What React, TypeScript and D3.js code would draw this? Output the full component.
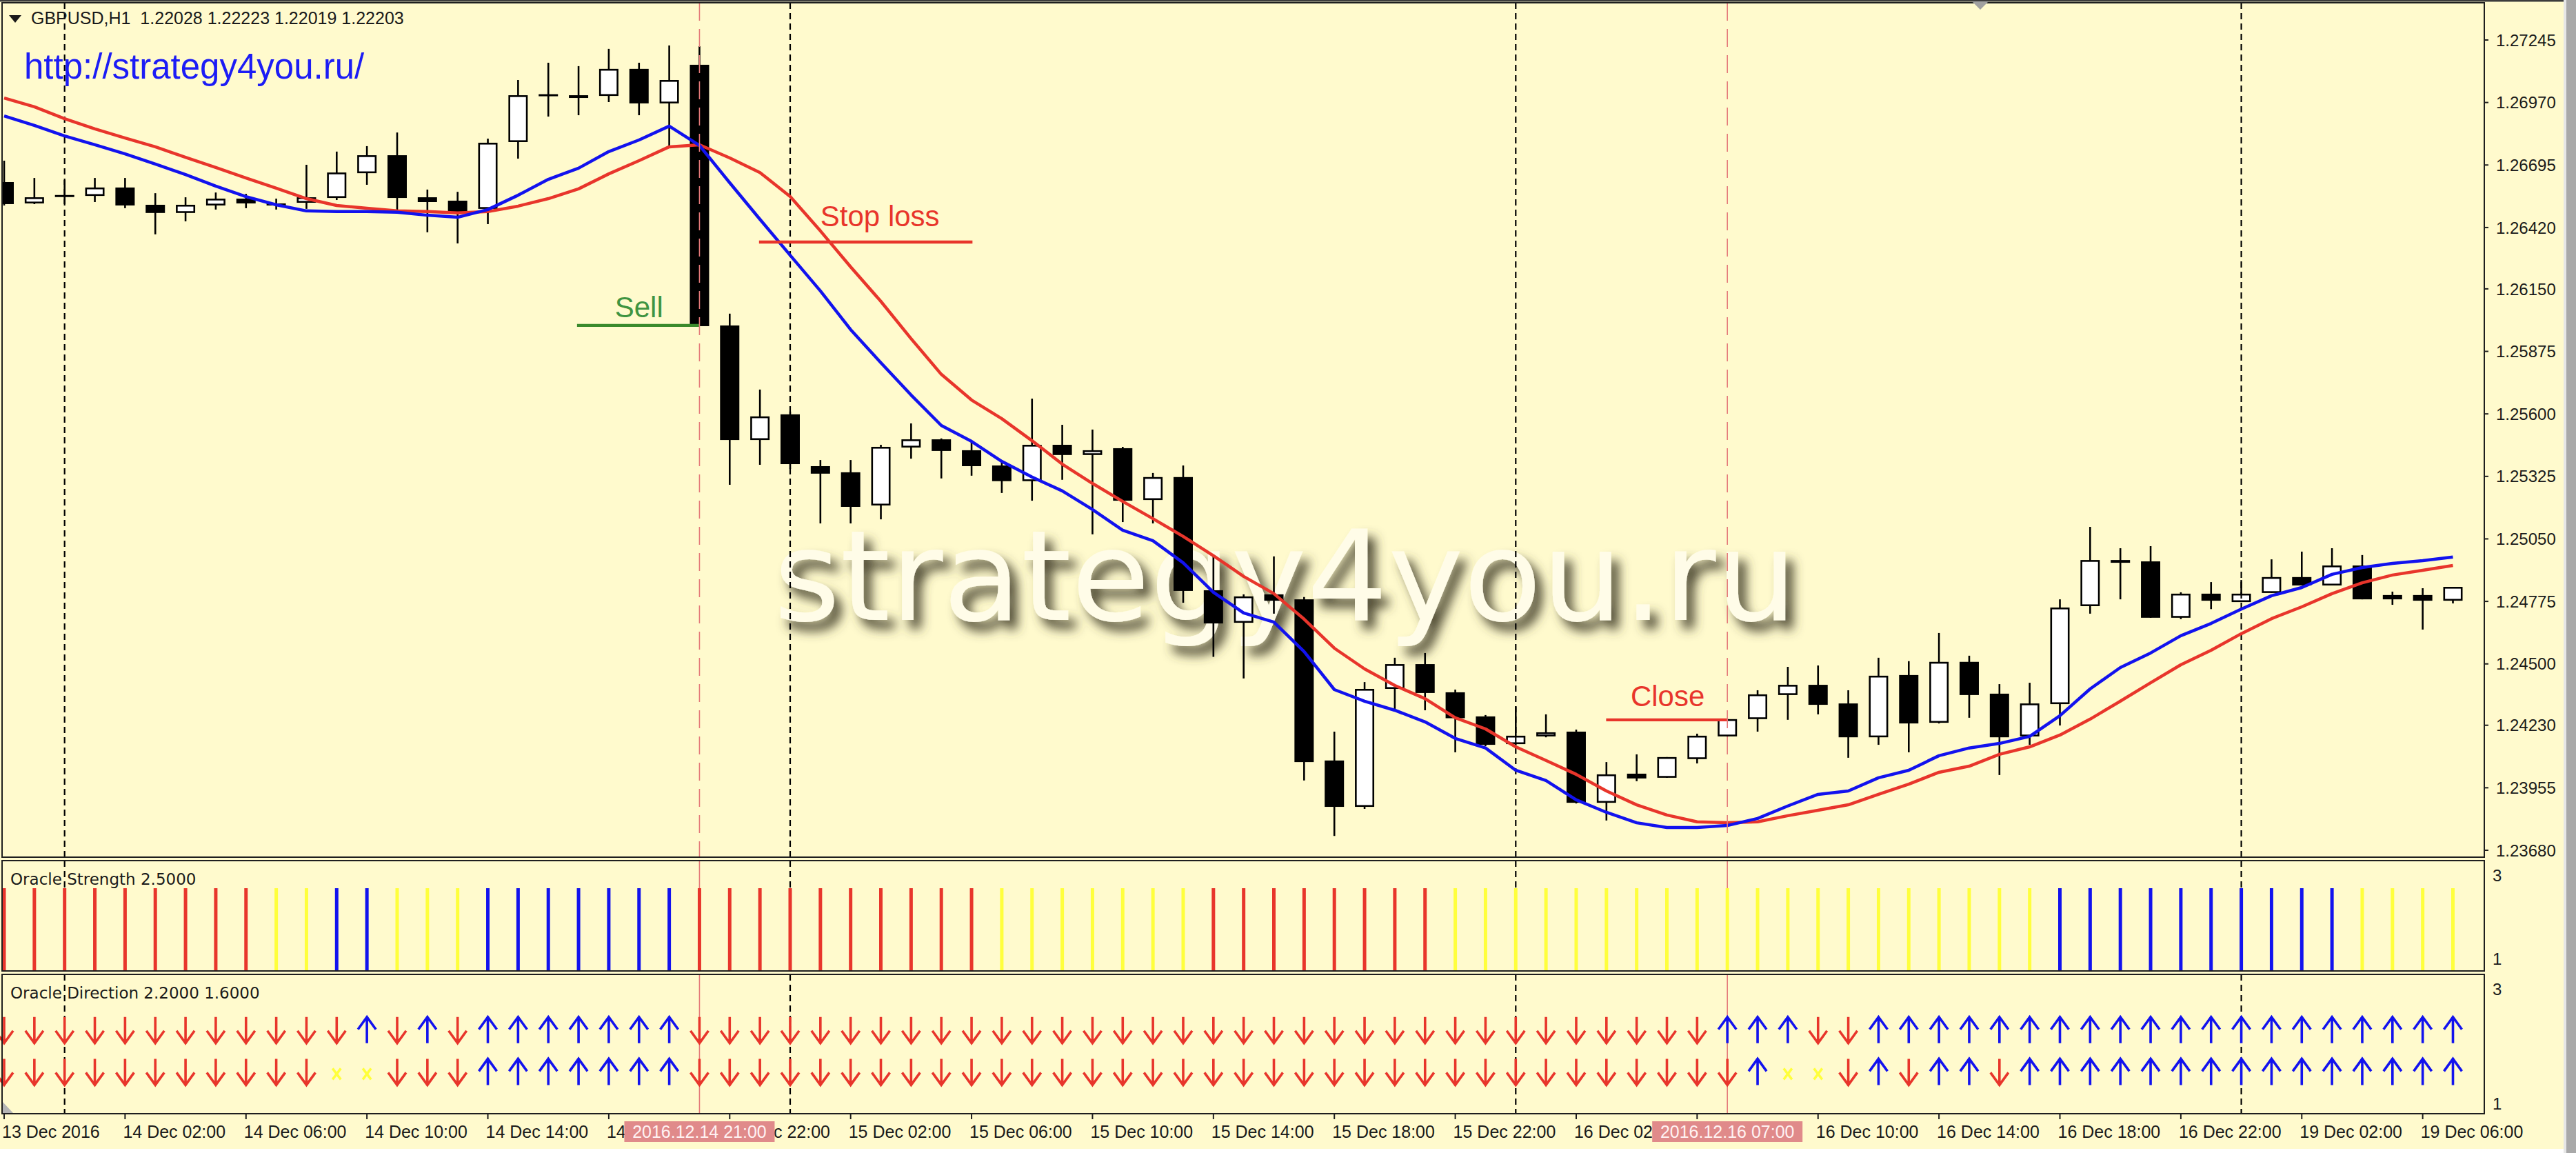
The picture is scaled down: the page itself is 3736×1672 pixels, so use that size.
import React from 'react';
import * as d3 from 'd3';

const W = 3736;
const H = 1672;

// ---------- DATA ----------
const barOpen = [1.26620, 1.26526, 1.26559, 1.26559, 1.26596, 1.26520, 1.26484, 1.26517, 1.26547, 1.26526,
  1.26529, 1.26550, 1.26659, 1.26738, 1.26553, 1.26538, 1.26502, 1.26796, 1.27002, 1.27002,
  1.26999, 1.27118, 1.26966, 1.27136, 1.25989, 1.25485, 1.25598, 1.25370, 1.25343, 1.25197,
  1.25452, 1.25488, 1.25440, 1.25373, 1.25304, 1.25464, 1.25419, 1.25449, 1.25221, 1.25322,
  1.24824, 1.24681, 1.24806, 1.24784, 1.24075, 1.23871, 1.24390, 1.24499, 1.24375, 1.24269,
  1.24147, 1.24181, 1.24202, 1.23889, 1.24017, 1.23999, 1.24081, 1.24181, 1.24257, 1.24363,
  1.24408, 1.24326, 1.24177, 1.24451, 1.24241, 1.24509, 1.24369, 1.24181, 1.24323, 1.24754,
  1.24957, 1.24951, 1.24703, 1.24809, 1.24772, 1.24812, 1.24882, 1.24845, 1.24933, 1.24803,
  1.24803, 1.24778];
const barHigh = [1.26714, 1.26638, 1.26629, 1.26638, 1.26638, 1.26571, 1.26553, 1.26574, 1.26568, 1.26547,
  1.26696, 1.26754, 1.26778, 1.26838, 1.26587, 1.26577, 1.26811, 1.27069, 1.27145, 1.27130,
  1.27206, 1.27145, 1.27221, 1.27218, 1.26041, 1.25707, 1.25610, 1.25397, 1.25397, 1.25464,
  1.25558, 1.25492, 1.25482, 1.25394, 1.25667, 1.25552, 1.25531, 1.25455, 1.25340, 1.25373,
  1.24973, 1.24806, 1.24973, 1.24794, 1.24202, 1.24420, 1.24527, 1.24548, 1.24387, 1.24275,
  1.24313, 1.24278, 1.24211, 1.24068, 1.24102, 1.24090, 1.24193, 1.24257, 1.24384, 1.24487,
  1.24493, 1.24384, 1.24527, 1.24512, 1.24636, 1.24536, 1.24411, 1.24417, 1.24784, 1.25103,
  1.25009, 1.25018, 1.24815, 1.24860, 1.24869, 1.24960, 1.24994, 1.25009, 1.24979, 1.24818,
  1.24833, 1.24839];
const barLow = [1.26517, 1.26523, 1.26523, 1.26532, 1.26505, 1.26390, 1.26447, 1.26499, 1.26505, 1.26499,
  1.26502, 1.26541, 1.26608, 1.26490, 1.26399, 1.26350, 1.26435, 1.26723, 1.26908, 1.26914,
  1.26972, 1.26914, 1.26775, 1.25986, 1.25288, 1.25376, 1.25358, 1.25118, 1.25118, 1.25136,
  1.25403, 1.25316, 1.25328, 1.25252, 1.25218, 1.25310, 1.25070, 1.25124, 1.25118, 1.24769,
  1.24531, 1.24436, 1.24721, 1.23987, 1.23743, 1.23862, 1.24296, 1.24296, 1.24111, 1.24138,
  1.24142, 1.24177, 1.23886, 1.23811, 1.23984, 1.23999, 1.24062, 1.24181, 1.24202, 1.24254,
  1.24278, 1.24087, 1.24144, 1.24111, 1.24238, 1.24263, 1.24011, 1.24144, 1.24229, 1.24721,
  1.24784, 1.24703, 1.24697, 1.24741, 1.24772, 1.24812, 1.24845, 1.24845, 1.24784, 1.24760,
  1.24651, 1.24766];
const barClose = [1.26523, 1.26553, 1.26558, 1.26596, 1.26517, 1.26484, 1.26520, 1.26547, 1.26526, 1.26517,
  1.26553, 1.26662, 1.26738, 1.26550, 1.26532, 1.26487, 1.26793, 1.27002, 1.27002, 1.26990,
  1.27118, 1.26966, 1.27069, 1.25986, 1.25485, 1.25589, 1.25379, 1.25337, 1.25191, 1.25455,
  1.25488, 1.25437, 1.25370, 1.25304, 1.25464, 1.25419, 1.25440, 1.25218, 1.25322, 1.24821,
  1.24678, 1.24797, 1.24778, 1.24068, 1.23871, 1.24390, 1.24499, 1.24372, 1.24261, 1.24144,
  1.24184, 1.24199, 1.23889, 1.24014, 1.23996, 1.24090, 1.24184, 1.24257, 1.24366, 1.24408,
  1.24320, 1.24177, 1.24448, 1.24238, 1.24509, 1.24363, 1.24177, 1.24326, 1.24748, 1.24957,
  1.24945, 1.24703, 1.24809, 1.24778, 1.24809, 1.24882, 1.24845, 1.24933, 1.24784, 1.24784,
  1.24778, 1.24839];

const slowMA = [1.26990, 1.26951, 1.26899, 1.26854, 1.26814, 1.26775, 1.26729, 1.26684, 1.26638, 1.26593,
  1.26547, 1.26517, 1.26505, 1.26493, 1.26490, 1.26484, 1.26490, 1.26514, 1.26547, 1.26590,
  1.26656, 1.26714, 1.26775, 1.26784, 1.26726, 1.26662, 1.26556, 1.26405, 1.26247, 1.26095,
  1.25931, 1.25774, 1.25661, 1.25579, 1.25482, 1.25379, 1.25294, 1.25215, 1.25139, 1.25061,
  1.24976, 1.24885, 1.24809, 1.24697, 1.24569, 1.24478, 1.24405, 1.24347, 1.24263, 1.24214,
  1.24135, 1.24075, 1.24014, 1.23941, 1.23880, 1.23835, 1.23805, 1.23801, 1.23805, 1.23832,
  1.23856, 1.23880, 1.23926, 1.23971, 1.24023, 1.24050, 1.24102, 1.24135, 1.24187, 1.24257,
  1.24336, 1.24417, 1.24496, 1.24560, 1.24633, 1.24699, 1.24751, 1.24809, 1.24857, 1.24891,
  1.24912, 1.24933];
const fastMA = [1.26911, 1.26869, 1.26823, 1.26784, 1.26744, 1.26699, 1.26653, 1.26602, 1.26556, 1.26520,
  1.26493, 1.26490, 1.26490, 1.26487, 1.26474, 1.26465, 1.26499, 1.26562, 1.26632, 1.26681,
  1.26754, 1.26805, 1.26866, 1.26781, 1.26617, 1.26456, 1.26298, 1.26141, 1.25971, 1.25825,
  1.25683, 1.25549, 1.25479, 1.25391, 1.25322, 1.25261, 1.25179, 1.25088, 1.25042, 1.24945,
  1.24815, 1.24724, 1.24684, 1.24554, 1.24387, 1.24336, 1.24296, 1.24245, 1.24172, 1.24130,
  1.24032, 1.23987, 1.23902, 1.23847, 1.23801, 1.23780, 1.23780, 1.23789, 1.23820, 1.23875,
  1.23926, 1.23941, 1.23999, 1.24032, 1.24096, 1.24130, 1.24150, 1.24181, 1.24272, 1.24390,
  1.24484, 1.24548, 1.24624, 1.24678, 1.24741, 1.24800, 1.24836, 1.24894, 1.24924, 1.24942,
  1.24954, 1.24970];

// Oracle Strength histogram colour per bar, in groups of ten bars (R = red, Y = yellow, B = blue)
const strengthState = 'RRRRRRRRRY YBBYYYBBBB BBBRRRRRRR RRRYYYYYYY RRRRRRRRYY YYYYYYYYYY YYYYYYYYBB BBBBBBBBYY YY'
  .replace(/ /g, '').split('');
const strengthLevel = 2.5;
// Oracle Direction arrows per bar, in groups of ten (D = down, U = up, X = neutral)
const directionUpper = 'DDDDDDDDDD DDUDUDUUUU UUUDDDDDDD DDDDDDDDDD DDDDDDDDDD DDDDDDDUUU DDUUUUUUUU UUUUUUUUUU UU'
  .replace(/ /g, '').split('');
const directionLower = 'DDDDDDDDDD DXXDDDUUUU UUUDDDDDDD DDDDDDDDDD DDDDDDDDDD DDDDDDDDUX XDUDUUDUUU UUUUUUUUUU UU'
  .replace(/ /g, '').split('');
const directionLevels = [2.2, 1.6];

const priceTicks = [1.27245, 1.26970, 1.26695, 1.26420, 1.26150, 1.25875, 1.25600, 1.25325, 1.25050,
  1.24775, 1.24500, 1.24230, 1.23955, 1.23680];
const timeTickBars = [0, 4, 8, 12, 16, 20, 24, 28, 32, 36, 40, 44, 48, 52, 56, 60, 64, 68, 72, 76, 80];
const timeTickLabels = ['13 Dec 2016', '14 Dec 02:00', '14 Dec 06:00', '14 Dec 10:00', '14 Dec 14:00',
  '14 Dec 18:00', '14 Dec 22:00', '15 Dec 02:00', '15 Dec 06:00', '15 Dec 10:00', '15 Dec 14:00',
  '15 Dec 18:00', '15 Dec 22:00', '16 Dec 02:00', '16 Dec 06:00', '16 Dec 10:00', '16 Dec 14:00',
  '16 Dec 18:00', '16 Dec 22:00', '19 Dec 02:00', '19 Dec 06:00'];
const separatorBars = [2, 26, 50, 74];
const markerBars = [23, 57];
const markerLabels = ['2016.12.14 21:00', '2016.12.16 07:00'];

// trade annotations: bar index range and price
const tradeLines = [
  { label: 'Sell', from: 18.95, to: 23, price: 1.25989, textBar: 20.2, textPrice: 1.26025, color: '#3b8a2c', text: '#3f9441' },
  { label: 'Stop loss', from: 24.97, to: 32.03, price: 1.26356, textBar: 27, textPrice: 1.26426, color: '#e8352b', text: '#e8352b' },
  { label: 'Close', from: 52.99, to: 57, price: 1.24254, textBar: 53.8, textPrice: 1.24314, color: '#e8352b', text: '#e8352b' },
];

// ---------- LAYOUT ----------
const plotLeft = 3;
const plotRight = 3603;
const mainTop = 4;
const mainBottom = 1243;
const strTop = 1248;
const strBottom = 1408;
const dirTop = 1413;
const dirBottom = 1615;

const BG = '#fffacd';
const RED = '#e8352b';
const BLUE = '#1212ee';
const YELLOW = '#ffff3c';
const TXT = '#1a1a1a';
const SANS = '"Liberation Sans", Arial, sans-serif';

const xs = d3.scaleLinear().domain([0, 81]).range([6, 3557.5]);
const ys = d3.scaleLinear().domain([1.23680, 1.27245]).range([1233, 58]);
const yStr = d3.scaleLinear().domain([1, 3]).range([strBottom, strTop]);
const yDir = d3.scaleLinear().domain([1, 3]).range([dirBottom, dirTop]);

const colorOf = (c: string) => (c === 'R' ? RED : c === 'B' ? BLUE : YELLOW);

function arrowPath(cx: number, cy: number, up: boolean) {
  const h = 19, hw = 13, hd = 18;
  if (up) {
    return `M${cx},${cy + h}L${cx},${cy - h}M${cx - hw},${cy - h + hd}L${cx},${cy - h}L${cx + hw},${cy - h + hd}`;
  }
  return `M${cx},${cy - h}L${cx},${cy + h}M${cx - hw},${cy + h - hd}L${cx},${cy + h}L${cx + hw},${cy + h - hd}`;
}

export default function App() {
  const line = d3.line<number>().x((_, i) => xs(i)).y((v) => ys(v));
  const bodyHalf = 14;

  return (
    <svg width={W} height={H} viewBox={`0 0 ${W} ${H}`}
      style={{ position: 'absolute', left: 0, top: 0, display: 'block' }}>
      <defs>
        <clipPath id="mainClip"><rect x={plotLeft} y={mainTop} width={plotRight - plotLeft} height={mainBottom - mainTop} /></clipPath>
        <clipPath id="strClip"><rect x={plotLeft} y={strTop} width={plotRight - plotLeft} height={strBottom - strTop} /></clipPath>
        <filter id="wm" x="-5%" y="-30%" width="110%" height="170%">
          <feGaussianBlur in="SourceAlpha" stdDeviation="8" result="b" />
          <feOffset in="b" dx="11" dy="13" result="o" />
          <feFlood floodColor="#45412c" floodOpacity="0.95" />
          <feComposite in2="o" operator="in" result="s" />
          <feMerge><feMergeNode in="s" /><feMergeNode in="SourceGraphic" /></feMerge>
        </filter>
      </defs>

      <rect x={0} y={0} width={W} height={H} fill={BG} />

      {/* watermark */}
      <text x={1122} y={899} fontFamily='"DejaVu Sans", Verdana, sans-serif' fontSize={182}
        textLength={1484} lengthAdjust="spacingAndGlyphs" fill="#fffce8" filter="url(#wm)">strategy4you.ru</text>

      {/* main panel content */}
      <g clipPath="url(#mainClip)">
        {barOpen.map((o, i) => {
          const c = barClose[i];
          const cx = xs(i);
          const top = ys(Math.max(o, c));
          const bot = ys(Math.min(o, c));
          const bull = c >= o;
          const hgt = bot - top;
          return (
            <g key={i}>
              <line x1={cx} x2={cx} y1={ys(barHigh[i])} y2={ys(barLow[i])} stroke="#000" strokeWidth={2.6} />
              {hgt < 3 ? (
                <line x1={cx - bodyHalf} x2={cx + bodyHalf} y1={(top + bot) / 2} y2={(top + bot) / 2} stroke="#000" strokeWidth={3} />
              ) : (
                <rect x={cx - bodyHalf + 1.3} y={top + 1.3} width={bodyHalf * 2 - 2.6} height={hgt - 2.6}
                  fill={bull ? '#ffffff' : '#000000'} stroke="#000" strokeWidth={2.6} />
              )}
            </g>
          );
        })}

        {separatorBars.map((b) => (
          <line key={b} x1={xs(b)} x2={xs(b)} y1={mainTop} y2={mainBottom} stroke="#000" strokeWidth={2.2} strokeDasharray="9 6" />
        ))}

        <path d={line(slowMA) || ''} fill="none" stroke={RED} strokeWidth={4.5} strokeLinejoin="round" />
        <path d={line(fastMA) || ''} fill="none" stroke={BLUE} strokeWidth={4.5} strokeLinejoin="round" />

        {tradeLines.map((t) => (
          <g key={t.label}>
            <line x1={xs(t.from)} x2={xs(t.to)} y1={ys(t.price)} y2={ys(t.price)} stroke={t.color} strokeWidth={4.3} />
            <text x={xs(t.textBar)} y={ys(t.textPrice)} fontFamily={SANS} fontSize={42} fill={t.text}>{t.label}</text>
          </g>
        ))}

        {markerBars.map((b) => (
          <line key={b} x1={xs(b)} x2={xs(b)} y1={mainTop} y2={mainBottom} stroke="#e47a7a" strokeWidth={1.6} strokeDasharray="26 12" />
        ))}
      </g>

      {/* sub-panel vertical lines */}
      {separatorBars.map((b) => (
        <g key={'s' + b}>
          <line x1={xs(b)} x2={xs(b)} y1={strTop} y2={strBottom} stroke="#000" strokeWidth={2.2} strokeDasharray="9 6" />
          <line x1={xs(b)} x2={xs(b)} y1={dirTop} y2={dirBottom} stroke="#000" strokeWidth={2.2} strokeDasharray="9 6" />
        </g>
      ))}
      {markerBars.map((b) => (
        <g key={'m' + b}>
          <line x1={xs(b)} x2={xs(b)} y1={strTop} y2={strBottom} stroke="#e47a7a" strokeWidth={1.6} />
          <line x1={xs(b)} x2={xs(b)} y1={dirTop} y2={dirBottom} stroke="#e47a7a" strokeWidth={1.6} />
        </g>
      ))}

      {/* strength panel */}
      <g clipPath="url(#strClip)">
        {strengthState.map((s, i) => (
          <line key={i} x1={xs(i)} x2={xs(i)} y1={yStr(strengthLevel)} y2={strBottom - 1} stroke={colorOf(s)} strokeWidth={5} />
        ))}
      </g>

      {/* direction panel */}
      {[directionUpper, directionLower].map((row, r) => (
        <g key={r}>
          {row.map((s, i) => {
            const cx = xs(i);
            const cy = yDir(directionLevels[r]);
            if (s === 'X') {
              return (
                <path key={i} d={`M${cx - 6},${cy - 5}L${cx + 6},${cy + 11}M${cx + 6},${cy - 5}L${cx - 6},${cy + 11}`}
                  stroke={YELLOW} strokeWidth={3.5} fill="none" />
              );
            }
            return (
              <path key={i} d={arrowPath(cx, cy, s === 'U')} fill="none"
                stroke={s === 'U' ? BLUE : RED} strokeWidth={3.6} />
            );
          })}
        </g>
      ))}

      {/* panel borders */}
      {[[mainTop, mainBottom], [strTop, strBottom], [dirTop, dirBottom]].map(([t, b], k) => (
        <rect key={k} x={plotLeft} y={t} width={plotRight - plotLeft} height={b - t} fill="none" stroke="#1e1e1e" strokeWidth={2} />
      ))}
      <rect x={0} y={0} width={W} height={2.5} fill="#3c3c3c" />

      {/* price axis */}
      {priceTicks.map((p) => (
        <g key={p}>
          <line x1={plotRight} x2={plotRight + 6} y1={ys(p)} y2={ys(p)} stroke="#1e1e1e" strokeWidth={2} />
          <text x={3620} y={ys(p)} dy="0.36em" fontFamily={SANS} fontSize={24} fill={TXT}>{p.toFixed(5)}</text>
        </g>
      ))}
      {/* sub-panel scale labels */}
      <text x={3615} y={strTop + 21} dy="0.36em" fontFamily={SANS} fontSize={24} fill={TXT}>3</text>
      <text x={3615} y={strBottom - 18} dy="0.36em" fontFamily={SANS} fontSize={24} fill={TXT}>1</text>
      <text x={3615} y={dirTop + 21} dy="0.36em" fontFamily={SANS} fontSize={24} fill={TXT}>3</text>
      <text x={3615} y={dirBottom - 15} dy="0.36em" fontFamily={SANS} fontSize={24} fill={TXT}>1</text>

      {/* panel titles */}
      <text x={15} y={1283} fontFamily='"DejaVu Sans", sans-serif' fontSize={23} fill={TXT}>Oracle Strength 2.5000</text>
      <text x={15} y={1448} fontFamily='"DejaVu Sans", sans-serif' fontSize={23} fill={TXT}>Oracle Direction 2.2000 1.6000</text>

      {/* time axis */}
      {timeTickBars.map((b, k) => (
        <g key={b}>
          <line x1={xs(b)} x2={xs(b)} y1={dirBottom} y2={dirBottom + 8} stroke="#1e1e1e" strokeWidth={2} />
          <text x={xs(b) - 3} y={1650} fontFamily={SANS} fontSize={25} fill={TXT}>{timeTickLabels[k]}</text>
        </g>
      ))}
      {markerBars.map((b, k) => (
        <g key={'ml' + b}>
          <rect x={xs(b) - 109} y={1626} width={218} height={30} fill="#e08a8a" />
          <text x={xs(b)} y={1650} textAnchor="middle" fontFamily={SANS} fontSize={25} fill="#fff2f2">{markerLabels[k]}</text>
        </g>
      ))}

      {/* header */}
      <path d="M13,22L31,22L22,33Z" fill="#1a1a1a" />
      <text x={45} y={35} fontFamily={SANS} fontSize={25} fill={TXT} style={{ whiteSpace: 'pre' }}>{'GBPUSD,H1  1.22028 1.22223 1.22019 1.22203'}</text>
      <text x={35} y={114} fontFamily={SANS} fontSize={51} fill="#1c1cf5">http://strategy4you.ru/</text>

      {/* window chrome */}
      <path d="M2860,2L2884,2L2872,14Z" fill="#a0a0a0" />
      <path d="M4,1598L4,1614L19,1614Z" fill="#b4b4b4" />
      <rect x={3718} y={0} width={4} height={H} fill="#e6e6e6" />
      <rect x={3722} y={0} width={14} height={H} fill="#a9a9a9" />
      <rect x={0} y={1666} width={3718} height={6} fill="#ffffff" />
    </svg>
  );
}
